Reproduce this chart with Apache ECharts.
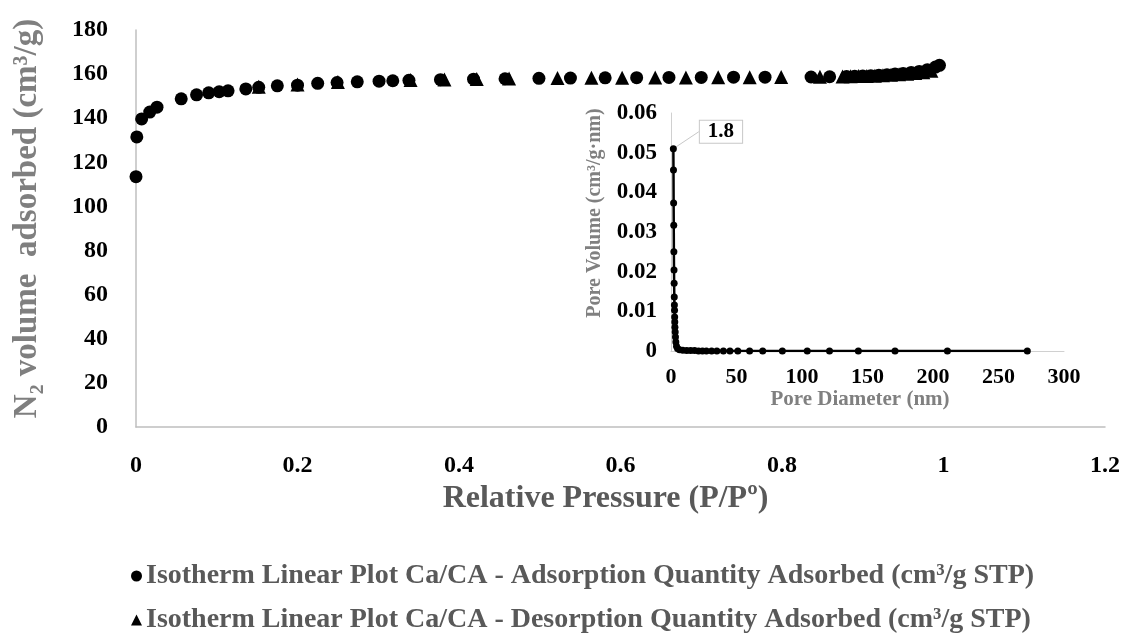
<!DOCTYPE html>
<html>
<head>
<meta charset="utf-8">
<script src="https://cdn.jsdelivr.net/npm/echarts@6/dist/echarts.min.js"></script>
<style>
html,body{margin:0;padding:0;background:#fff;}
#c{width:1123px;height:635px;}
</style>
</head>
<body>
<div id="c"></div>
<script>
// Main isotherm: adsorption
const adsX = [0.0, 0.001, 0.007, 0.017, 0.026, 0.056, 0.075, 0.09, 0.103, 0.114, 0.136, 0.152, 0.175, 0.2, 0.225, 0.249, 0.274, 0.301, 0.318, 0.338, 0.377, 0.418, 0.457, 0.499, 0.538, 0.581, 0.62, 0.66, 0.7, 0.74, 0.779, 0.836, 0.859, 0.88, 0.89, 0.9, 0.91, 0.92, 0.93, 0.94, 0.95, 0.96, 0.97, 0.98, 0.99, 0.995];
const adsY = [113.5, 131.5, 139.7, 142.8, 145, 148.8, 150.6, 151.5, 152, 152.4, 153.3, 154, 154.7, 155, 155.8, 156.2, 156.5, 156.8, 157, 157.2, 157.5, 157.7, 157.9, 158.1, 158.2, 158.3, 158.4, 158.5, 158.5, 158.6, 158.6, 158.7, 158.8, 158.9, 159, 159.1, 159.3, 159.5, 159.7, 160, 160.3, 160.7, 161.2, 162, 163.2, 164];
// Main isotherm: desorption
const desX = [0.152, 0.2, 0.25, 0.34, 0.382, 0.422, 0.462, 0.522, 0.564, 0.602, 0.643, 0.681, 0.721, 0.76, 0.799, 0.847, 0.875, 0.885, 0.895, 0.905, 0.915, 0.925, 0.935, 0.945, 0.955, 0.965, 0.975, 0.985];
const desY = [154.3, 155.3, 156.4, 157.3, 157.6, 157.8, 158, 158.2, 158.3, 158.4, 158.5, 158.5, 158.6, 158.6, 158.7, 158.8, 158.9, 159, 159.1, 159.2, 159.3, 159.5, 159.7, 159.9, 160.2, 160.5, 160.9, 161.5];
// Inset: pore size distribution
const poreD = [1.8, 1.9, 2.0, 2.1, 2.2, 2.3, 2.4, 2.5, 2.6, 2.7, 2.8, 2.9, 3.0, 3.2, 3.4, 3.7, 4.2, 5.0, 6.5, 9, 12, 15, 18, 21, 24, 27, 31, 35, 40, 45, 51, 60, 70, 85, 104, 121, 143, 171, 211, 272];
const poreV = [0.051, 0.0456, 0.0373, 0.0317, 0.025, 0.0204, 0.0171, 0.0136, 0.0116, 0.0103, 0.0086, 0.0073, 0.006, 0.0048, 0.0035, 0.0023, 0.0012, 0.0006, 0.0003, 0.0002, 0.0001, 0.0001, 0.0001, 0, 0, 0, 0, 0, 0, 0, 0, 0, 0, 0, 0, 0, 0, 0, 0, 0];
const peakLabel = '1.8';

const seriesNames = [
  'Isotherm Linear Plot Ca/CA - Adsorption Quantity Adsorbed (cm³/g STP)',
  'Isotherm Linear Plot Ca/CA - Desorption Quantity Adsorbed (cm³/g STP)'
];

const FONT = '"Liberation Serif", "Times New Roman", serif';
const zip = (a, b) => a.map((v, i) => [v, b[i]]);

const poreData = zip(poreD, poreV).map((p, i) => i === 0 ? {
  value: p,
  label: {
    show: true, formatter: peakLabel, position: 'right',
    fontFamily: FONT, fontWeight: 'bold', fontSize: 21, color: '#000',
    borderColor: '#c8c8c8', borderWidth: 1, padding: [1, 8, 0, 8], backgroundColor: '#fff'
  },
  labelLine: { show: true, lineStyle: { color: '#c8c8c8', width: 1 } }
} : p);

const chart = echarts.init(document.getElementById('c'), null, { renderer: 'canvas' });
chart.setOption({
  backgroundColor: '#fff',
  animation: false,
  textStyle: { fontFamily: FONT },
  grid: [
    { left: 136, right: 15, top: 30, bottom: 208 },
    { left: 671, right: 59, top: 113, bottom: 284 }
  ],
  xAxis: [
    {
      gridIndex: 0, type: 'value', min: 0, max: 1.2, interval: 0.2,
      splitLine: { show: false },
      axisLine: { show: true, onZero: false, lineStyle: { color: '#bfbfbf', width: 1.5 } },
      axisTick: { show: false },
      axisLabel: { margin: 27, fontFamily: FONT, fontWeight: 'bold', fontSize: 24, color: '#000' },
      name: 'Relative Pressure (P/Pº)', nameLocation: 'middle', nameGap: 47,
      nameTextStyle: { fontFamily: FONT, fontWeight: 'bold', fontSize: 32, color: '#595959', padding: [0, 30, 0, 0] }
    },
    {
      gridIndex: 1, type: 'value', min: 0, max: 300, interval: 50,
      splitLine: { show: false },
      axisLine: { show: true, onZero: false, lineStyle: { color: '#d0d0d0', width: 1 } },
      axisTick: { show: false },
      axisLabel: { margin: 15, fontFamily: FONT, fontWeight: 'bold', fontSize: 22, color: '#000' },
      name: 'Pore Diameter (nm)', nameLocation: 'middle', nameGap: 38,
      nameTextStyle: { fontFamily: FONT, fontWeight: 'bold', fontSize: 21, color: '#808080', padding: [0, 15, 0, 0] }
    }
  ],
  yAxis: [
    {
      gridIndex: 0, type: 'value', min: 0, max: 180, interval: 20,
      splitLine: { show: false },
      axisLine: { show: true, onZero: false, lineStyle: { color: '#bfbfbf', width: 1.5 } },
      axisTick: { show: false },
      axisLabel: { margin: 28, fontFamily: FONT, fontWeight: 'bold', fontSize: 24, color: '#000' },
      name: 'N₂ volume  adsorbed (cm³/g)', nameLocation: 'middle', nameGap: 92, nameRotate: 90,
      nameTextStyle: { fontFamily: FONT, fontWeight: 'bold', fontSize: 33, color: '#7f7f7f', padding: [0, 0, 0, 20] }
    },
    {
      gridIndex: 1, type: 'value', min: 0, max: 0.06, interval: 0.01,
      splitLine: { show: false },
      axisLine: { show: true, onZero: false, lineStyle: { color: '#d0d0d0', width: 1 } },
      axisTick: { show: false },
      axisLabel: { margin: 14, fontFamily: FONT, fontWeight: 'bold', fontSize: 23, color: '#000' },
      name: 'Pore Volume (cm³/g·nm)', nameLocation: 'middle', nameGap: 66, nameRotate: 90,
      nameTextStyle: { fontFamily: FONT, fontWeight: 'bold', fontSize: 20, color: '#808080', padding: [0, 0, 0, 38] }
    }
  ],
  legend: {
    orient: 'vertical', left: 131, top: 562, itemGap: 16, padding: 0,
    itemWidth: 11, itemHeight: 11,
    textStyle: { fontFamily: FONT, fontWeight: 'bold', fontSize: 28, color: '#595959', padding: [0, 0, 0, -1] },
    data: [
      { name: seriesNames[0], icon: 'circle' },
      { name: seriesNames[1], icon: 'triangle' }
    ]
  },
  series: [
    {
      name: seriesNames[0], type: 'scatter', xAxisIndex: 0, yAxisIndex: 0,
      symbol: 'circle', symbolSize: 13, itemStyle: { color: '#000', opacity: 1 },
      data: zip(adsX, adsY)
    },
    {
      name: seriesNames[1], type: 'scatter', xAxisIndex: 0, yAxisIndex: 0,
      symbol: 'triangle', symbolSize: 14, itemStyle: { color: '#000', opacity: 1 },
      data: zip(desX, desY)
    },
    {
      name: 'Pore', type: 'line', xAxisIndex: 1, yAxisIndex: 1,
      symbol: 'circle', symbolSize: 7, showSymbol: true,
      lineStyle: { color: '#000', width: 2.5 }, itemStyle: { color: '#000' },
      labelLayout: { dx: 18, dy: -17 },
      data: poreData
    }
  ]
});
</script>
</body>
</html>
